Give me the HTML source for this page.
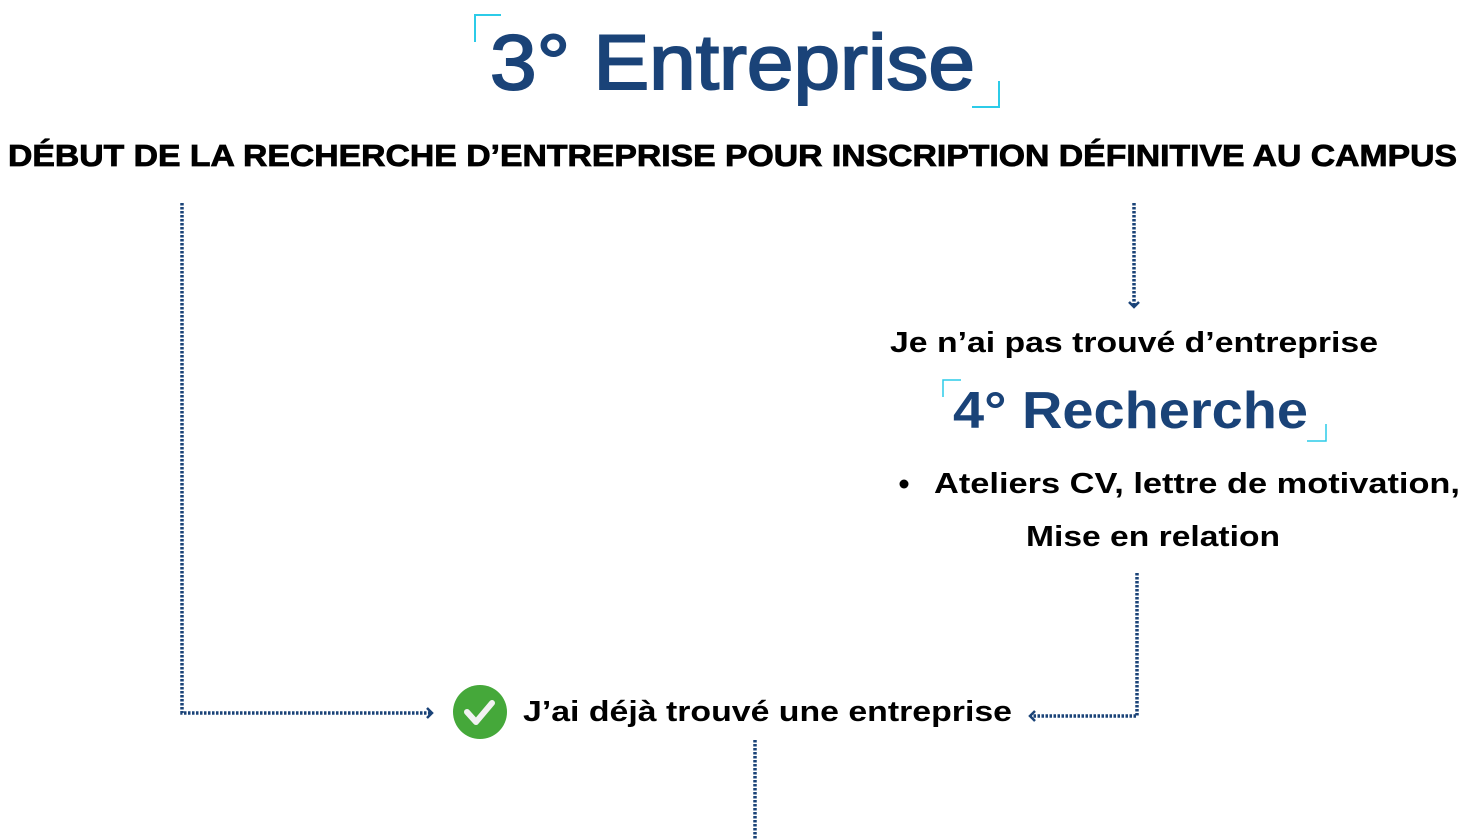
<!DOCTYPE html>
<html><head><meta charset="utf-8"><style>body{margin:0;background:#fff}svg{display:block}</style></head><body>
<svg width="1474" height="840" viewBox="0 0 1474 840" xmlns="http://www.w3.org/2000/svg" font-family="Liberation Sans, sans-serif">
<defs>
<marker id="a" viewBox="0 0 12 14" refX="9" refY="7" markerWidth="12" markerHeight="14" markerUnits="userSpaceOnUse" orient="auto"><path d="M4 2 L9 7 L4 12" fill="none" stroke="#1a4378" stroke-width="2.5"/></marker>
</defs>
<path d="M475 42 V15 H501" fill="none" stroke="#2ccbe8" stroke-width="2"/>
<path d="M972 107 H999 V81" fill="none" stroke="#2ccbe8" stroke-width="2"/>
<text x="490" y="89" font-size="78" fill="#1a4378" stroke="#1a4378" stroke-width="2" textLength="485" lengthAdjust="spacingAndGlyphs">3° Entreprise</text>
<text x="8" y="166" font-size="31" font-weight="bold" fill="#000" stroke="#000" stroke-width="0.8" textLength="1449" lengthAdjust="spacingAndGlyphs">DÉBUT DE LA RECHERCHE D’ENTREPRISE POUR INSCRIPTION DÉFINITIVE AU CAMPUS</text>
<g fill="none" stroke="#1a4378" stroke-width="3.5" stroke-dasharray="2.5 1.5">
<path d="M182 203 V713 H432" marker-end="url(#a)"/>
<path d="M1134 203 V307" marker-end="url(#a)"/>
<path d="M1137 573 V716 H1030" marker-end="url(#a)"/>
<path d="M755 740 V840"/>
</g>
<text x="890" y="352" font-size="29" font-weight="bold" fill="#000" textLength="488" lengthAdjust="spacingAndGlyphs">Je n’ai pas trouvé d’entreprise</text>
<path d="M943 397 V380 H961" fill="none" stroke="#2ccbe8" stroke-width="1.5"/>
<path d="M1307 441 H1326 V424" fill="none" stroke="#2ccbe8" stroke-width="1.5"/>
<text x="953" y="428" font-size="52" font-weight="bold" fill="#1a4378" textLength="355" lengthAdjust="spacingAndGlyphs">4° Recherche</text>
<circle cx="904" cy="484" r="4.5" fill="#000"/>
<text x="934" y="493" font-size="29" font-weight="bold" fill="#000" textLength="526" lengthAdjust="spacingAndGlyphs">Ateliers CV, lettre de motivation,</text>
<text x="1026" y="546" font-size="29" font-weight="bold" fill="#000" textLength="254" lengthAdjust="spacingAndGlyphs">Mise en relation</text>
<circle cx="480" cy="712" r="27" fill="#45a83a"/>
<path d="M467 712 L476 722 L492 703" fill="none" stroke="#f2f2f2" stroke-width="6" stroke-linecap="round" stroke-linejoin="round"/>
<text x="523" y="721" font-size="29" font-weight="bold" fill="#000" textLength="489" lengthAdjust="spacingAndGlyphs">J’ai déjà trouvé une entreprise</text>
</svg>
</body></html>
